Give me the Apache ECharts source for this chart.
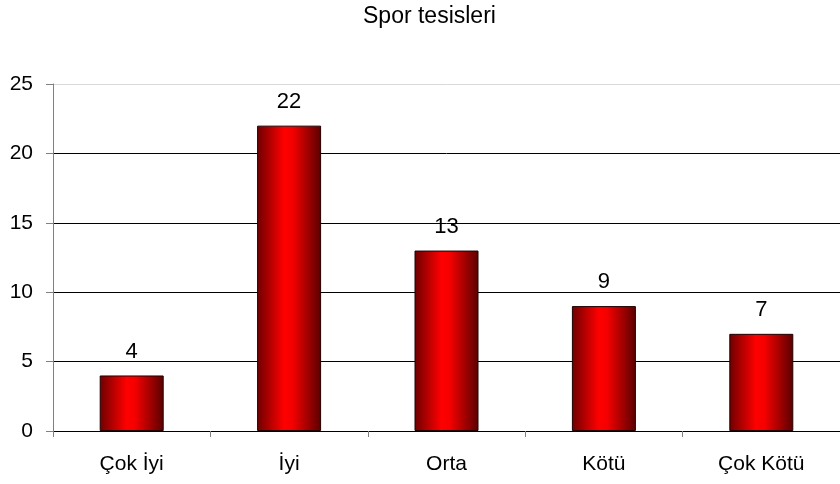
<!DOCTYPE html>
<html><head><meta charset="utf-8">
<script src="https://cdn.jsdelivr.net/npm/echarts@6/dist/echarts.min.js"></script>
<style>html,body{margin:0;padding:0;background:#fff}#c{width:840px;height:484px}</style>
</head><body><div id="c"></div>
<script>
const title = "Spor tesisleri";
const categories = ["Çok İyi", "İyi", "Orta", "Kötü", "Çok Kötü"];
const values = [4, 22, 13, 9, 7];
const yTicks = [0, 5, 10, 15, 20, 25];

const FONT = "'Liberation Sans', Arial, sans-serif";
const chart = echarts.init(document.getElementById('c'));
chart.setOption({
  animation: false,
  backgroundColor: '#fff',
  textStyle: { fontFamily: FONT },
  title: { text: title, left: 358, top: 0, textStyle: { fontSize: 23, fontWeight: 'normal', color: '#000', fontFamily: FONT } },
  grid: { left: 53, width: 793, top: 84, height: 347 },
  xAxis: {
    type: 'category', data: categories,
    axisLine: { lineStyle: { color: '#000', width: 1 } },
    axisTick: { show: true, length: 6, lineStyle: { color: '#808080' } },
    axisLabel: { fontSize: 21, color: '#000', margin: 23, fontFamily: FONT }
  },
  yAxis: {
    type: 'value', min: yTicks[0], max: yTicks[yTicks.length - 1], interval: 5,
    axisLine: { show: true, lineStyle: { color: '#808080' } },
    axisTick: { show: true, length: 7, lineStyle: { color: '#808080' } },
    axisLabel: { fontSize: 21, color: '#000', margin: 20, fontFamily: FONT },
    splitLine: { show: true, lineStyle: { color: ['#000', '#000', '#000', '#000', '#000', '#d9d9d9'], width: 1 } }
  },
  series: [{
    type: 'bar', data: values, barWidth: 64,
    itemStyle: {
      borderColor: '#200000', borderWidth: 1,
      color: new echarts.graphic.LinearGradient(0, 0, 1, 0, [
        { offset: 0, color: '#6e0000' },
        { offset: 0.42, color: '#ff0000' },
        { offset: 0.55, color: '#f50000' },
        { offset: 1, color: '#5a0000' }
      ])
    },
    label: { show: true, position: 'top', distance: 13, fontSize: 22, color: '#000', fontFamily: FONT }
  }]
});
</script></body></html>
